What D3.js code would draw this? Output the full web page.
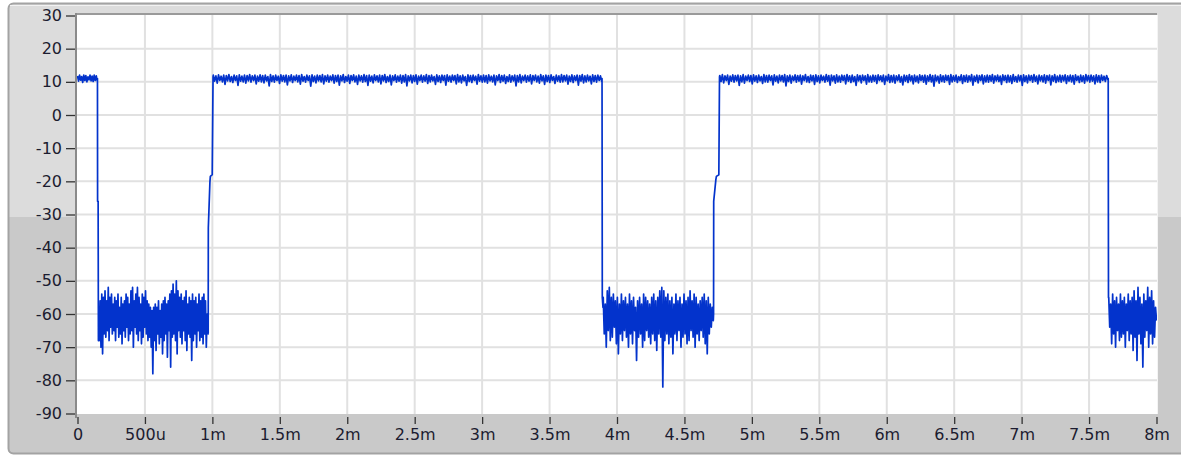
<!DOCTYPE html>
<html>
<head>
<meta charset="utf-8">
<script src="https://cdn.jsdelivr.net/npm/d3@7"></script>
<style>
  body { margin: 0; background: #fff; }
  svg { display: block; }
  .tick text { font-family: "DejaVu Sans", sans-serif; font-size: 16px; fill: #1c1c30; }
  .tick line { stroke: #333; stroke-width: 1.3; }
</style>
</head>
<body>
<div id="chart"></div>
<script>

// ---- data (time in ms, value in dB) ----
var yTicks = [-90, -80, -70, -60, -50, -40, -30, -20, -10, 0, 10, 20, 30];
var xTicks = [0, 0.5, 1, 1.5, 2, 2.5, 3, 3.5, 4, 4.5, 5, 5.5, 6, 6.5, 7, 7.5, 8];
var xTickLabels = ["0", "500u", "1m", "1.5m", "2m", "2.5m", "3m", "3.5m", "4m", "4.5m", "5m", "5.5m", "6m", "6.5m", "7m", "7.5m", "8m"];

var high1 = [11.8,10.2,12,10.5,11.6,9.8,12,10.4,11.9,10,11.5,10.6,12,10.3,11.7,10.1,12,10.4,11.8,10.2];

var low1 = [
-60,-68,-56,-70,-54,-72,-55,-66,-53,-67,-56,-65,-52,-68,-55,-64,-54,-66,-57,-65,
-55,-68,-56,-64,-54,-67,-58,-66,-55,-69,-57,-65,-56,-67,-54,-64,-55,-68,-57,-66,
-53,-65,-52,-70,-56,-64,-54,-66,-52,-68,-55,-65,-57,-69,-54,-67,-55,-64,-53,-66,
-56,-68,-57,-67,-58,-70,-59,-78,-58,-68,-57,-71,-58,-66,-56,-69,-59,-67,-57,-72,
-56,-68,-55,-66,-57,-73,-56,-65,-54,-76,-53,-67,-51,-66,-54,-68,-50,-72,-53,-65,
-55,-67,-54,-69,-56,-65,-55,-68,-53,-71,-57,-66,-55,-67,-56,-74,-54,-68,-56,-66,
-55,-70,-57,-65,-54,-68,-56,-67,-55,-69,-54,-66,-56,-70,-60,-64];

var high2 = [
12,10.2,11.8,9.6,12.1,10.4,11.7,10,12,9.2,11.9,10.3,12.2,10.1,11.6,9.8,12,10.4,11.8,8.9,12.1,10.2,11.7,10,12,9.6,11.9,10.3,12.2,9.9,
11.8,10.4,12,9.4,11.7,10.2,12.1,10,11.9,9.7,12,10.3,11.6,8.8,12.2,10.1,11.8,9.9,12,10.4,11.7,9.5,12.1,10.2,11.9,10,12,9.1,11.8,10.3,
12.1,9.8,11.7,10.4,12,10,11.9,9.3,12.2,10.2,11.6,9.9,12,10.4,11.8,8.7,12.1,10.1,11.7,9.7,12,10.3,11.9,10,12.2,9.4,11.8,10.2,12,9.9,
11.7,10.4,12.1,9.6,11.9,10.1,12,9,11.8,10.3,12.2,9.8,11.6,10.2,12,9.5,11.9,10.4,12.1,10,11.7,9.2,12,10.3,11.8,9.9,12.2,10.1,11.9,8.9,
12,10.2,11.7,9.7,12.1,10.4,11.8,10,12,9.4,11.9,10.3,12.2,9.8,11.6,10.1,12,9.1,11.8,10.4,12.1,9.9,11.7,10.2,12,9.6,11.9,10,12.2,8.8,
11.8,10.3,12,9.7,11.9,10.1,12.1,9.3,11.7,10.4,12,9.9,11.8,10.2,12.2,9.5,11.9,10,12,10.3,11.6,9.2,12.1,10.1,11.8,9.8,12,10.4,11.9,9,
12.1,10.2,11.7,9.9,12,10.4,11.9,9.4,12.2,10,11.8,9.7,12,10.3,11.6,8.9,12.1,10.1,11.9,9.8,12,10.4,11.7,9.3,12.2,10.2,11.8,9.9,12,10,
11.9,9.6,12.1,10.3,11.7,10,12,9.1,11.8,10.4,12.2,9.8,11.9,10.2,12,9.5,11.6,10.1,12.1,9.9,11.8,10.3,12,8.8,11.9,10,12.2,9.7,11.7,10.4,
12,9.9,11.8,10.2,12.1,9.4,11.9,10.4,12,10,11.7,9.6,12.2,10.3,11.8,9.2,12,10.1,11.9,9.8,12.1,10.4,11.6,9.5,12,10.2,11.8,9.9,12.2,10,
11.9,10.3,12,9.3,11.7,10.1,12.1,9.8,11.8,10.4,12,9,11.9,10.2,12.2,9.7,11.8,10,12,10.3,11.7,9.4,12.1,10.1,11.9,9.9,12,10.4,11.8,10];

var low2 = [
-55,-66,-57,-70,-53,-65,-52,-68,-55,-67,-54,-64,-56,-69,-55,-72,-57,-66,-54,-68,
-56,-65,-55,-67,-57,-70,-54,-66,-56,-69,-55,-65,-58,-74,-56,-67,-55,-66,-57,-70,
-54,-68,-55,-65,-56,-67,-57,-69,-55,-66,-54,-68,-56,-71,-55,-66,-53,-67,-52,-82,
-53,-68,-55,-66,-54,-69,-56,-67,-55,-72,-57,-66,-54,-68,-56,-65,-55,-70,-57,-67,
-54,-66,-56,-69,-55,-68,-53,-65,-56,-67,-54,-70,-55,-66,-57,-68,-56,-65,-55,-67,
-54,-69,-56,-72,-55,-66,-57,-64,-58,-62];

var high3 = [
11.9,10.1,12.2,9.7,11.8,10.4,12,9.2,11.7,10.2,12.1,9.9,11.9,10.3,12,8.9,11.8,10,12.2,9.6,11.7,10.4,12,10.1,11.9,9.4,12.1,10.2,11.8,9.8,
12,10.3,11.6,9.5,12.2,10,11.9,9.9,12,10.4,11.8,9.1,12.1,10.2,11.7,9.7,12,10.3,11.9,10,12.2,8.8,11.8,10.1,12,9.6,11.7,10.4,12.1,9.9,
11.9,10.2,12,9.3,11.8,10.4,12.2,10,11.6,9.8,12,10.3,11.9,9.2,12.1,10.1,11.8,9.7,12,10.4,11.7,9.9,12.2,10.2,11.9,9,12,10.3,11.8,9.6,
12.1,10,11.7,9.9,12,10.4,11.9,9.4,12.2,10.2,11.8,9.8,12,10.1,11.6,8.9,12.1,10.3,11.9,9.7,12,10.4,11.8,9.3,12.2,10,11.7,9.9,12,10.2,
11.9,9.5,12.1,10.4,11.8,10.1,12,9.2,11.7,10.3,12.2,9.8,11.9,10,12,9.6,11.8,10.4,12.1,9.9,11.6,9.1,12,10.2,11.9,9.8,12.2,10.3,11.8,9.4,
12,10.1,11.7,9.7,12.1,10.4,11.9,9.9,12,9.3,11.8,10.2,12.2,10,11.9,8.7,12,10.3,11.7,9.6,12.1,10.1,11.8,9.9,12,10.4,11.9,9.2,12.2,10,
11.8,10.2,12,9.8,11.6,10.4,12.1,9.5,11.9,10.1,12,9.9,11.8,10.3,12.2,9,11.7,10.2,12,9.7,11.9,10.4,12.1,9.4,11.8,10,12,9.9,11.9,10.2,
12.2,9.6,11.8,10.3,12,10.1,11.7,9.2,12.1,10.4,11.9,9.8,12,10,11.8,9.5,12.2,10.2,11.6,9.9,12,10.3,11.9,8.9,12.1,10.1,11.8,9.7,12,10.4,
11.9,9.9,12.2,10.2,11.7,9.4,12,10.3,11.8,10,12.1,9.6,11.9,10.4,12,9.1,11.8,10.2,12.2,9.8,11.7,10.1,12,9.9,11.9,10.3,12.1,9.5,11.8,10.2,
12,10,11.9,9.3,12.1,10.4,11.7,9.8,12,10.1,11.8,9.6,12.2,10.3,11.9,9.9,12,10.2,11.8,9.4,12.1,10,11.9,9.8,12,10.4,11.7,10.1,11.9,10.6];

var low3 = [
-55,-64,-57,-69,-54,-66,-56,-70,-55,-65,-57,-68,-54,-67,-56,-66,-55,-70,-57,-65,
-54,-68,-56,-66,-55,-71,-53,-67,-56,-74,-52,-66,-55,-69,-57,-76,-54,-67,-56,-65,
-52,-70,-55,-66,-53,-69,-56,-67,-58,-62];

// edges between levels, [time ms, value]
var edge1 = [[0.148, 11], [0.149, -26], [0.153, -26], [0.155, -68]];
var edge2 = [[0.969, -66], [0.970, -34], [0.982, -20], [0.985, -18.5], [0.999, -18], [1.005, 11.5]];
var edge3 = [[3.889, 11], [3.891, -55], [3.896, -58]];
var edge4 = [[4.716, -60], [4.717, -26], [4.733, -19.5], [4.737, -18.5], [4.755, -18], [4.760, 11.5]];
var edge5 = [[7.642, 11], [7.644, -55]];

// each noisy run spread evenly over its time span
var runs = [
  {t0: 0.0,   t1: 0.147, v: high1},
  {edge: edge1},
  {t0: 0.156, t1: 0.967, v: low1},
  {edge: edge2},
  {t0: 1.007, t1: 3.887, v: high2},
  {edge: edge3},
  {t0: 3.898, t1: 4.714, v: low2},
  {edge: edge4},
  {t0: 4.762, t1: 7.640, v: high3},
  {edge: edge5},
  {t0: 7.646, t1: 8.0,   v: low3}
];

var data = [];
runs.forEach(function(r) {
    if (r.edge) {
        r.edge.forEach(function(p) { data.push({t: p[0], v: p[1]}); });
    } else {
        var n = r.v.length;
        r.v.forEach(function(v, i) {
            data.push({t: r.t0 + (r.t1 - r.t0) * i / (n - 1), v: v});
        });
    }
});

var W = 1181, H = 457;
var plot = {left: 77, right: 1157, top: 15, bottom: 414};

var svg = d3.select("#chart").append("svg").attr("width", W).attr("height", H);

// panel: light upper half, darker lower half
svg.append("defs").append("clipPath").attr("id", "frameclip")
  .append("rect").attr("x", 8).attr("y", 3).attr("width", W).attr("height", 451).attr("rx", 5);

var panel = svg.append("g").attr("clip-path", "url(#frameclip)");
panel.append("rect").attr("x", 8).attr("y", 3).attr("width", W).attr("height", 451).attr("fill", "#dcdcdc");
panel.append("rect").attr("x", 8).attr("y", 217).attr("width", W).attr("height", 240).attr("fill", "#c9c9c9");

svg.append("rect")
    .attr("x", 8.5).attr("y", 3.5).attr("width", W).attr("height", 450).attr("rx", 5)
    .attr("fill", "none").attr("stroke", "#a3a3a3").attr("stroke-width", 2);
svg.append("line").attr("x1", 10).attr("x2", W).attr("y1", 5.5).attr("y2", 5.5)
    .attr("stroke", "#f2f2f2").attr("stroke-width", 1);

// plot area
svg.append("rect")
    .attr("x", plot.left).attr("y", plot.top)
    .attr("width", plot.right - plot.left).attr("height", plot.bottom - plot.top)
    .attr("fill", "#fff");

var x = d3.scaleLinear().domain([0, 8]).range([77.5, 1156.5]);
var y = d3.scaleLinear().domain([-90, 30]).range([413.5, 15.5]);

// grid
var grid = svg.append("g");
grid.selectAll(".gx").data(xTicks.slice(1, -1)).enter().append("line")
    .attr("x1", function(d) { return x(d); }).attr("x2", function(d) { return x(d); })
    .attr("y1", plot.top).attr("y2", plot.bottom)
    .attr("stroke", "#e1e1e1").attr("stroke-width", 2);
grid.selectAll(".gy").data(yTicks.slice(1, -1)).enter().append("line")
    .attr("x1", plot.left).attr("x2", plot.right)
    .attr("y1", function(d) { return y(d); }).attr("y2", function(d) { return y(d); })
    .attr("stroke", "#e1e1e1").attr("stroke-width", 2);

// waveform
svg.append("defs").append("clipPath").attr("id", "plotclip")
  .append("rect").attr("x", plot.left).attr("y", plot.top - 2)
  .attr("width", plot.right - plot.left).attr("height", plot.bottom - plot.top + 4);

var line = d3.line()
    .x(function(d) { return x(d.t); })
    .y(function(d) { return y(d.v); });

svg.append("path")
    .datum(data)
    .attr("clip-path", "url(#plotclip)")
    .attr("fill", "none")
    .attr("stroke", "#0333cc")
    .attr("stroke-width", 1.7)
    .attr("stroke-linejoin", "round")
    .attr("d", line);

// frame lines of plot
svg.append("line").attr("x1", plot.left - 1).attr("x2", plot.right)
    .attr("y1", 14).attr("y2", 14).attr("stroke", "#9a9a9a").attr("stroke-width", 2);
svg.append("line").attr("x1", 76).attr("x2", 76)
    .attr("y1", 13).attr("y2", 418).attr("stroke", "#8a8a8a").attr("stroke-width", 2);
svg.append("line").attr("x1", plot.right + 0.5).attr("x2", plot.right + 0.5)
    .attr("y1", 15).attr("y2", plot.bottom).attr("stroke", "#f4f4f4").attr("stroke-width", 1);

// axes
var yAxis = d3.axisLeft(y).tickValues(yTicks).tickSize(9).tickPadding(4)
    .tickFormat(function(d) { return d; });
svg.append("g").attr("transform", "translate(75,0)").call(yAxis)
    .call(function(g) { g.select(".domain").remove(); });

var xAxis = d3.axisBottom(x).tickValues(xTicks).tickSize(7).tickPadding(5)
    .tickFormat(function(d, i) { return xTickLabels[i]; });
svg.append("g").attr("transform", "translate(0,417)").call(xAxis)
    .call(function(g) { g.select(".domain").remove(); });

</script>
</body>
</html>
